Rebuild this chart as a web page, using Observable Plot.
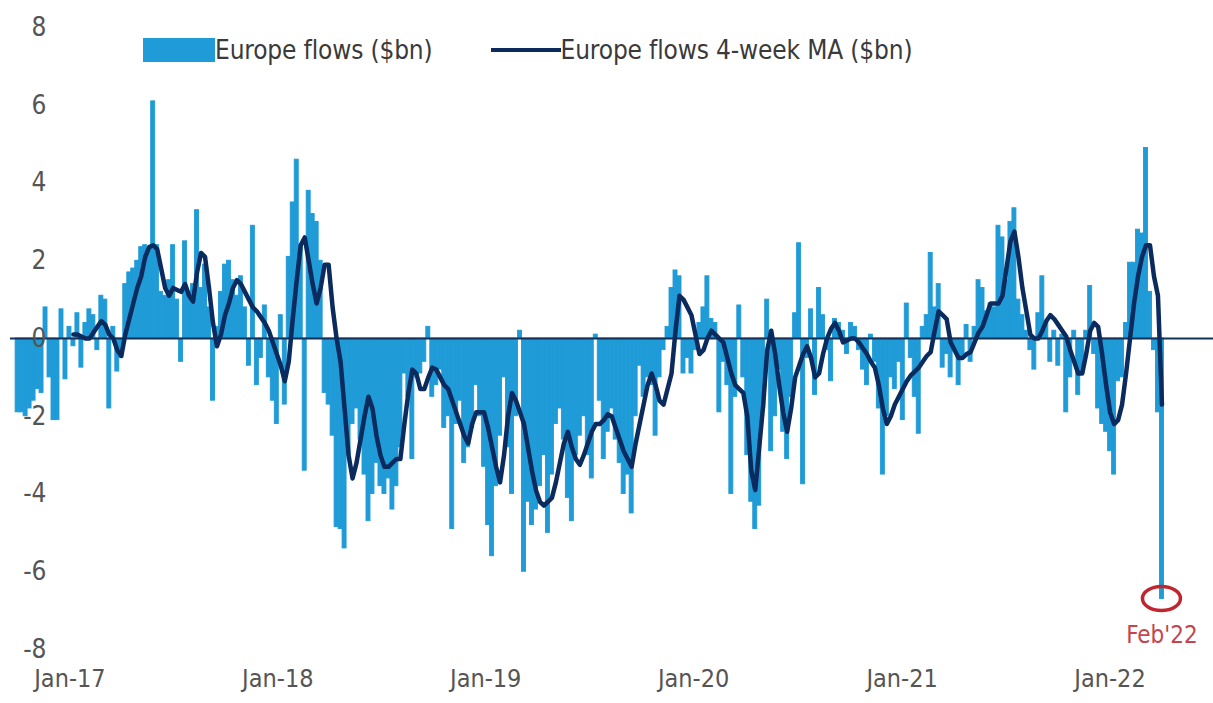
<!DOCTYPE html>
<html>
<head>
<meta charset="utf-8">
<script src="https://cdn.jsdelivr.net/npm/d3@7"></script>
<script src="https://cdn.jsdelivr.net/npm/@observablehq/plot@0.6"></script>
<style>
  body { margin: 0; background: #fff; }
  #wrap { position: relative; width: 1213px; height: 703px; font-family: "DejaVu Sans Condensed", "Liberation Sans Narrow", sans-serif; }
  #legend { position: absolute; left: 143px; top: 35px; display: flex; align-items: center; font-size: 26px; color: #3a3a3a; z-index: 2; letter-spacing: -0.15px; }
  #legend .sw { width: 72px; height: 24px; background: #1f9bd7; }
  #legend .ln { width: 70px; height: 4px; background: #0b2a5e; margin-left: 58px; }
</style>
</head>
<body>
<div id="wrap">
  <div id="legend"><span class="sw"></span><span id="lab1"></span><span class="ln"></span><span id="lab2"></span></div>
</div>
<script>
// ---- data ----
const firstWeek = "2016-07-27";           // first weekly observation
const seriesNames = ["Europe flows ($bn)", "Europe flows 4-week MA ($bn)"];
const flows = [
  -1.9, -1.9, -2.0, -1.8, -1.6, -1.3, -1.4, 0.8, -1.0, -2.1, -2.1, 0.75,
  -1.05, 0.3, -0.2, 0.65, -0.75, 0.4, 0.75, 0.6, -0.3, 1.1, 1.0, -1.8,
  0.3, -0.85, -0.5, 1.4, 1.7, 1.8, 2.0, 2.35, 2.4, 2.3, 6.1, 2.4,
  1.2, 1.1, 1.5, 2.4, 1.0, -0.6, 2.5, 1.2, 1.4, 3.3, 1.3, 1.9,
  0.8, -1.6, 0.3, 1.2, 1.9, 2.0, 1.5, 1.1, 1.6, 0.8, -0.7, 2.9,
  -1.2, -0.5, 0.85, -1.0, -1.6, -2.2, 0.6, -1.7, 2.1, 3.5, 4.6, 2.4,
  -3.4, 3.8, 3.2, 3.0, 2.0, -1.4, -1.7, -2.5, -4.85, -4.9, -5.4, -3.0,
  -2.2, -1.8, -2.6, -3.5, -4.7, -4.0, -3.2, -3.8, -4.0, -3.6, -4.4, -3.8,
  -2.8, -0.9, -1.5, -3.1, -1.0, -0.9, -0.6, 0.3, -1.5, -1.2, -0.8, -2.3,
  -2.0, -4.9, -2.2, -1.6, -3.2, -2.8, -2.3, -1.2, -2.0, -3.3, -4.8, -5.6,
  -3.8, -2.5, -1.0, -2.8, -4.0, -2.0, 0.2, -6.0, -4.2, -4.8, -4.4, -3.8,
  -3.0, -5.0, -3.5, -2.2, -1.8, -2.6, -4.1, -4.7, -3.0, -2.5, -2.0, -3.0,
  -3.6, 0.1, -1.6, -3.1, -2.4, -1.8, -2.6, -3.2, -4.0, -3.5, -4.5, -2.0,
  -0.7, -1.5, -1.0, -1.2, -2.5, -1.0, -0.3, 0.3, 1.3, 1.75, 1.6, -0.9,
  -0.5, -0.9, -0.3, 0.4, 0.8, 1.6, 0.5, 0.4, -1.9, -0.6, -1.2, -4.0,
  -1.5, 0.85, -1.0, -3.0, -4.2, -4.9, -4.3, -1.8, 1.0, -2.9, -2.0, -0.8,
  -2.4, -3.1, -1.5, 0.65, 2.45, -3.75, -0.5, 0.75, -1.45, 1.3, 0.6, -0.3,
  -1.1, 0.5, 0.4, 0.2, -0.4, 0.4, 0.3, -0.3, -0.8, -1.2, 0.1, -0.6,
  -1.8, -3.5, -2.0, -1.0, -1.3, -0.6, -2.1, 0.9, -0.5, -1.5, -2.45, 0.3,
  0.6, 2.2, 0.8, 1.4, -0.75, -0.4, -1.0, -0.3, -1.2, -0.5, 0.35, -0.6,
  0.3, 1.5, 1.3, 0.7, 0.9, 0.8, 2.9, 2.6, 1.5, 3.0, 3.35, 1.0,
  0.6, 0.2, -0.3, -0.8, 0.65, 1.6, 0.4, -0.6, 0.2, -0.7, 0.1, -1.9,
  -1.0, 0.2, -1.45, -0.9, 0.2, 1.35, -0.4, -1.8, -2.2, -2.4, -2.9, -3.5,
  -1.1, -1.0, 0.4, 1.95, 1.95, 2.8, 2.7, 4.9, 1.2, -0.3, -1.9, -6.7
];
const flowsMA = [
  null, null, null, null, null, null, null, null, null, null, null, null,
  null, null, 0.1, 0.1, 0.05, 0.0, 0.0, 0.15, 0.3, 0.45, 0.35, 0.1,
  0.0, -0.3, -0.45, 0.1, 0.5, 0.9, 1.3, 1.6, 2.1, 2.35, 2.4, 2.3,
  1.8, 1.3, 1.1, 1.3, 1.25, 1.2, 1.4, 1.1, 0.95, 1.7, 2.2, 2.1,
  1.3, 0.4, -0.2, 0.1, 0.6, 0.9, 1.3, 1.5, 1.4, 1.2, 1.0, 0.8,
  0.7, 0.55, 0.4, 0.2, -0.1, -0.4, -0.7, -1.1, -0.6, 0.5, 1.5, 2.4,
  2.6, 2.0, 1.4, 0.9, 1.3, 1.9, 1.9, 0.8, 0.0, -0.6, -1.8, -3.0,
  -3.6, -3.2, -2.6, -2.0, -1.5, -1.8, -2.5, -3.0, -3.3, -3.3, -3.2, -3.1,
  -3.1, -2.2, -1.4, -0.8, -0.9, -1.3, -1.3, -1.0, -0.75, -0.8, -1.0, -1.2,
  -1.3, -1.6, -1.9, -2.2, -2.5, -2.7, -2.2, -1.9, -1.9, -1.9, -2.3, -2.8,
  -3.3, -3.7, -3.0, -2.0, -1.4, -1.6, -1.9, -2.2, -2.8, -3.4, -3.9, -4.2,
  -4.3, -4.2, -4.1, -3.7, -3.2, -2.7, -2.4, -2.8, -3.1, -3.25, -3.0, -2.7,
  -2.4, -2.2, -2.2, -2.1, -1.95, -2.0, -2.3, -2.6, -2.9, -3.1, -3.3, -2.7,
  -2.2, -1.7, -1.2, -0.9, -1.2, -1.6, -1.7, -1.3, -0.9, 0.2, 1.1, 1.0,
  0.8, 0.6, 0.1, -0.4, -0.3, 0.0, 0.2, 0.1, 0.0, -0.1, -0.5, -0.9,
  -1.2, -1.3, -1.4, -2.0, -3.4, -3.9, -2.8, -1.7, -0.3, 0.2, -0.4, -1.2,
  -1.9, -2.4, -1.8, -1.0, -0.7, -0.4, -0.2, -0.5, -1.0, -0.9, -0.4, 0.0,
  0.25, 0.4, 0.2, -0.1, -0.05, 0.0, 0.0, -0.1, -0.25, -0.4, -0.6, -0.75,
  -1.2, -1.8, -2.2, -2.0, -1.7, -1.5, -1.3, -1.1, -0.95, -0.85, -0.75, -0.6,
  -0.45, -0.35, 0.2, 0.7, 0.6, 0.5, -0.1, -0.3, -0.5, -0.5, -0.4, -0.35,
  -0.1, 0.15, 0.3, 0.6, 0.9, 0.9, 0.9, 1.1, 1.8, 2.5, 2.75, 2.1,
  1.3, 0.7, 0.1, 0.0, 0.0, 0.2, 0.45, 0.6, 0.5, 0.35, 0.2, 0.05,
  -0.3, -0.6, -0.9, -0.9, -0.4, 0.2, 0.4, 0.3, -0.4, -1.2, -1.9, -2.2,
  -2.1, -1.7, -0.9, 0.0, 0.9, 1.6, 2.1, 2.4, 2.4, 1.6, 1.1, -1.7
];
const yTicks = [-8, -6, -4, -2, 0, 2, 4, 6, 8];
const xTickDates = ["2017-01-01", "2018-01-01", "2019-01-01", "2020-01-01", "2021-01-01", "2022-01-01"];
const xTickLabels = ["Jan-17", "Jan-18", "Jan-19", "Jan-20", "Jan-21", "Jan-22"];
const xDomain = ["2016-07-18", "2022-04-30"];
const annotationLabel = "Feb'22";

// ---- build table ----
const start0 = new Date(firstWeek + "T00:00:00Z");
const table = flows.map((v, i) => {
  const s = d3.utcDay.offset(start0, 7 * i);
  return { start: s, end: d3.utcDay.offset(s, 7), mid: d3.utcHour.offset(s, 84), value: v, ma: flowsMA[i] };
});
const last = table[table.length - 1];
const tickDates = xTickDates.map(d => new Date(d + "T00:00:00Z"));
const labelOf = new Map(tickDates.map((d, i) => [+d, xTickLabels[i]]));

document.getElementById("lab1").textContent = seriesNames[0];
document.getElementById("lab2").textContent = seriesNames[1];

const BAR = "#1f9bd7";
const plot = Plot.plot({
  width: 1213,
  height: 703,
  marginLeft: 10,
  marginRight: 0,
  marginTop: 27,
  marginBottom: 54,
  style: { fontFamily: '"DejaVu Sans Condensed", "Liberation Sans Narrow", sans-serif', fontSize: "25px", color: "#555", background: "white", overflow: "visible" },
  x: { type: "utc", domain: xDomain.map(d => new Date(d + "T00:00:00Z")) },
  y: { domain: [-8, 8] },
  marks: [
    Plot.rect(table, { x1: "start", x2: "end", y1: 0, y2: "value", fill: BAR, stroke: BAR, strokeWidth: 0.9 }),
    Plot.ruleY([0], { stroke: "#12325a", strokeWidth: 2 }),
    Plot.line(table, { x: "mid", y: "ma", stroke: "#0b2a5e", strokeWidth: 4.5, strokeLinejoin: "round", strokeLinecap: "round" }),
    Plot.axisY({ ticks: yTicks, tickSize: 0, tickPadding: 0, dx: 36, tickFormat: d => String(d), fill: "#555", fontSize: 26 }),
    Plot.axisX({ ticks: tickDates, tickSize: 0, tickPadding: 20, textAnchor: "end", tickFormat: d => labelOf.get(+d), fill: "#555" }),
    Plot.text([last], { x: "mid", y: "value", text: () => annotationLabel, dy: 36, fill: "#c4454b", fontSize: 24 })
  ]
});
document.getElementById("wrap").appendChild(plot);

// red ellipse around the last (record) week, placed via the plot's own scales
const sx = plot.scale("x"), sy = plot.scale("y");
d3.select(plot).append("ellipse")
  .attr("cx", sx.apply(last.mid))
  .attr("cy", sy.apply(last.value))
  .attr("rx", 19).attr("ry", 12)
  .attr("fill", "none").attr("stroke", "#c0262d").attr("stroke-width", 3.5);
</script>
</body>
</html>
